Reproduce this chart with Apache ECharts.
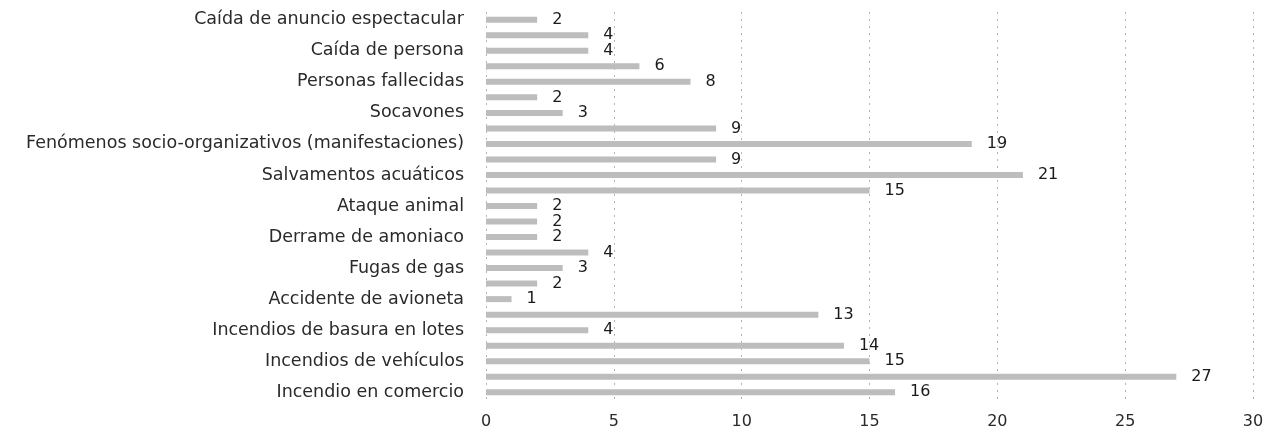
<!DOCTYPE html>
<html><head><meta charset="utf-8">
<script src="https://cdn.jsdelivr.net/npm/echarts@6/dist/echarts.min.js"></script>
<style>html,body{margin:0;padding:0;background:#fff}#c{width:1268px;height:430px}</style>
</head><body><div id="c"></div>
<script>
const categories = [
  'Caída de anuncio espectacular', '',
  'Caída de persona', '',
  'Personas fallecidas', '',
  'Socavones', '',
  'Fenómenos socio-organizativos (manifestaciones)', '',
  'Salvamentos acuáticos', '',
  'Ataque animal', '',
  'Derrame de amoniaco', '',
  'Fugas de gas', '',
  'Accidente de avioneta', '',
  'Incendios de basura en lotes', '',
  'Incendios de vehículos', '',
  'Incendio en comercio'
];
const values = [2, 4, 4, 6, 8, 2, 3, 9, 19, 9, 21, 15, 2, 2, 2, 4, 3, 2, 1, 13, 4, 14, 15, 27, 16];
const xTicks = [0, 5, 10, 15, 20, 25, 30];

const FONT = 'DejaVu Sans';
const chart = echarts.init(document.getElementById('c'));
chart.setOption({
  animation: false,
  grid: {left: 486, right: 15, top: 12, bottom: 30, containLabel: false},
  xAxis: {
    type: 'value', min: xTicks[0], max: xTicks[xTicks.length - 1], interval: 5,
    axisLine: {show: false}, axisTick: {show: false},
    axisLabel: {color: '#2a2a2a', fontSize: 16, fontFamily: FONT, margin: 14},
    splitLine: {show: true, lineStyle: {color: '#b5b5b5', type: [2, 5], width: 1}}
  },
  yAxis: {
    type: 'category', data: categories, inverse: true,
    axisLine: {show: false}, axisTick: {show: false},
    axisLabel: {interval: 0, color: '#2a2a2a', fontSize: 17.5, fontFamily: FONT, margin: 22}
  },
  series: [{
    type: 'bar', data: values, barWidth: 6,
    itemStyle: {color: '#bdbdbd'},
    label: {show: true, position: 'right', distance: 15, color: '#1a1a1a', fontSize: 16, fontFamily: FONT}
  }]
});
</script></body></html>
